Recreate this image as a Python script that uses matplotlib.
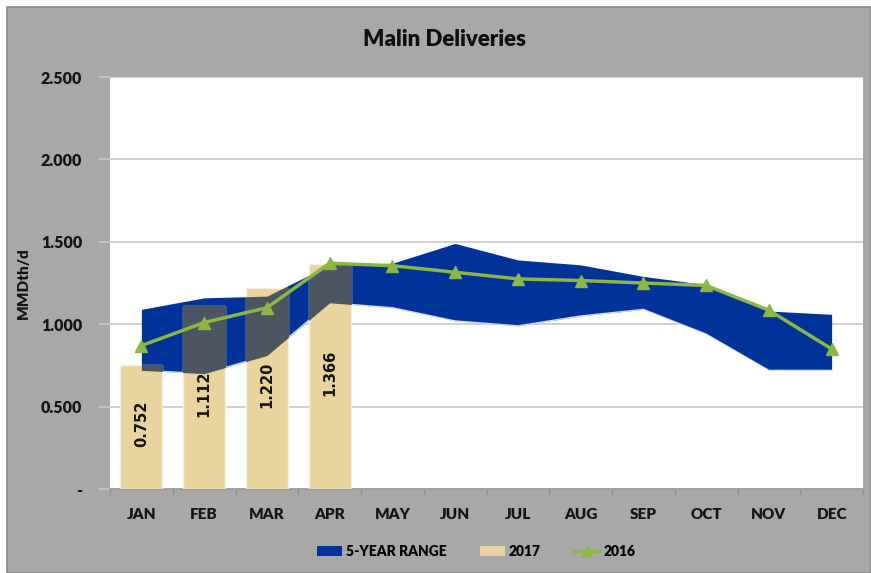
import numpy as np
import matplotlib
matplotlib.use("Agg")
import matplotlib.pyplot as plt
from matplotlib.patches import Rectangle, Patch
from matplotlib.lines import Line2D
from matplotlib.ticker import FuncFormatter

# datos
meses = ['JAN', 'FEB', 'MAR', 'APR', 'MAY', 'JUN', 'JUL', 'AUG', 'SEP', 'OCT', 'NOV', 'DEC']
rango_min = [0.72, 0.70, 0.81, 1.13, 1.10, 1.02, 0.99, 1.05, 1.09, 0.94, 0.72, 0.72]
rango_max = [1.09, 1.16, 1.17, 1.36, 1.37, 1.49, 1.39, 1.36, 1.29, 1.24, 1.08, 1.06]
valores_2017 = [0.752, 1.112, 1.220, 1.366]
valores_2016 = [0.87, 1.01, 1.10, 1.37, 1.355, 1.315, 1.275, 1.265, 1.25, 1.235, 1.085, 0.85]

AZUL = '#00339a'
TAN = '#e8d49c'
GRIS_SOLAPE = '#4b5661'
VERDE = '#8db642'
FONDO = '#a8a8a8'
TEXTO = '#141414'

plt.rcParams['font.family'] = ['Lato', 'DejaVu Sans']

W, H = 871, 573
fig = plt.figure(figsize=(W / 100, H / 100), dpi=100)
fig.patch.set_facecolor('white')
fig.patches.append(Rectangle((7 / W, 0), 1 - 7 / W, 1 - 7 / H, transform=fig.transFigure,
                             facecolor=FONDO, edgecolor='#8a8a8a', lw=1.2, zorder=-10))

ax = fig.add_axes([110 / W, 1 - 489 / H, 753 / W, 412 / H])
ax.set_facecolor('white')

x = np.arange(len(meses))
x17 = np.arange(len(valores_2017))

# rango de 5 anos
ax.fill_between(x, rango_min, rango_max, color=AZUL, lw=0, zorder=2)
ax.plot(x, rango_min, color='white', lw=1.0, alpha=0.8, zorder=2)

# barras 2017
barras = ax.bar(x17, valores_2017, width=0.67, color=TAN, edgecolor='#f4f0e4', lw=1.0, zorder=3)

# zona donde la barra tapa el rango
for b in barras:
    sombra = ax.fill_between(x, rango_min, rango_max, color=GRIS_SOLAPE, lw=0, zorder=4)
    sombra.set_clip_path(b)

# etiquetas de las barras
for xi, v in zip(x17, valores_2017):
    ax.text(xi, v / 2 + 0.02, f'{v:.3f}', rotation=90, ha='center', va='center',
            fontsize=10.5, fontweight='bold', family='DejaVu Sans', color=TEXTO, zorder=6)

# linea 2016
ax.plot(x, valores_2016, color=VERDE, lw=2.5, marker='^', markersize=8, zorder=5)

ax.set_xlim(-0.5, 11.5)
ax.set_ylim(0, 2.5)
ax.set_yticks(np.arange(0, 2.51, 0.5))
ax.yaxis.set_major_formatter(FuncFormatter(lambda v, p: '-' if v == 0 else f'{v:.3f}'))
ax.grid(axis='y', color='#c8c8c8', lw=1.2, zorder=0)
ax.set_axisbelow(True)

ax.set_xticks(x)
ax.set_xticklabels(meses)
ax.set_xticks(np.arange(-0.5, 12, 1), minor=True)
ax.tick_params(axis='x', which='major', length=0, pad=14, labelsize=11, labelcolor=TEXTO)
ax.tick_params(axis='x', which='minor', length=4, color='#8f8f8f', width=1)
ax.tick_params(axis='y', length=8, color='#c8c8c8', width=1.2, pad=12, labelsize=11.5, labelcolor=TEXTO)
for lab in ax.get_xticklabels() + ax.get_yticklabels():
    lab.set_fontweight('heavy')

for s in ['top', 'right', 'left']:
    ax.spines[s].set_visible(False)
ax.spines['bottom'].set_color('#9a9a9a')
ax.spines['bottom'].set_linewidth(1.2)

ax.set_ylabel('MMDth/d', fontsize=11, fontweight='heavy', color=TEXTO, labelpad=8)

fig.text(444 / W, 1 - 40 / H, 'Malin Deliveries', ha='center', va='center',
         fontsize=16, fontweight='heavy', color='#0f0f0f')

handles = [Patch(facecolor=AZUL, edgecolor='none'),
           Patch(facecolor=TAN, edgecolor='none'),
           Line2D([0], [0], color=VERDE, lw=2.5, marker='^', markersize=7)]
fig.legend(handles, ['5-YEAR RANGE', '2017', '2016'], loc='center',
           bbox_to_anchor=(476 / W, 1 - 551 / H), ncol=3, frameon=False,
           prop={'weight': 'heavy', 'size': 10}, handlelength=1.8, handletextpad=0.3,
           columnspacing=2.4)

fig.savefig('out.png', dpi=100, facecolor=fig.get_facecolor())
